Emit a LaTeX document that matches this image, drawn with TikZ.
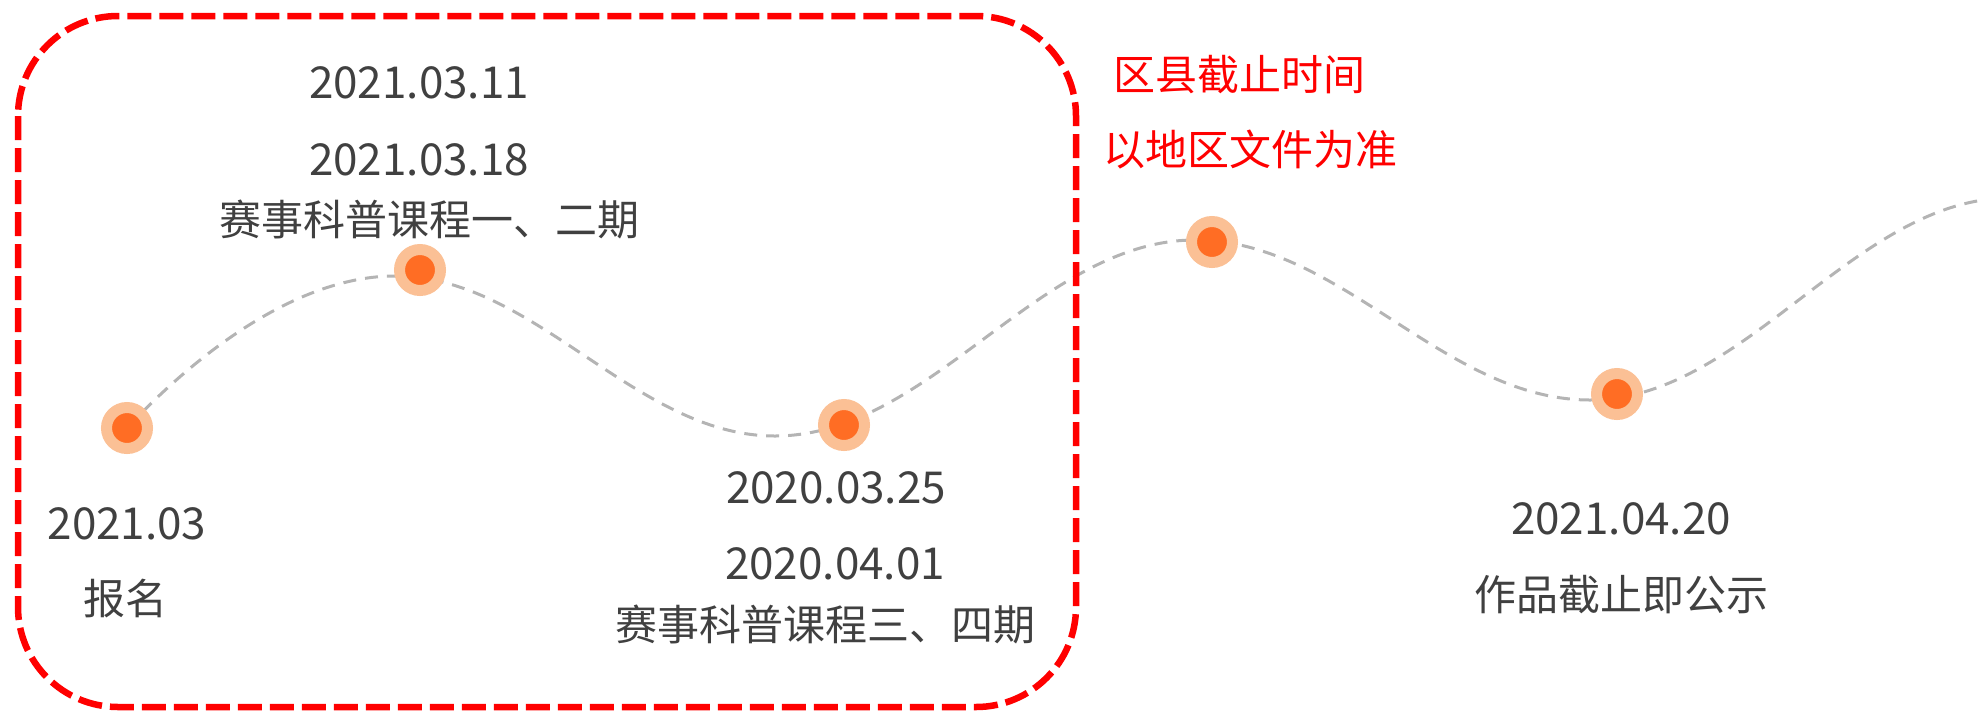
\documentclass[tikz,border=0pt]{standalone}
\usepackage{fontspec}
\setmainfont{Noto Sans CJK SC}
\definecolor{txtgray}{HTML}{404040}
\definecolor{boxred}{HTML}{FF0000}
\definecolor{curvegray}{HTML}{B4B4B4}
\definecolor{dotouter}{HTML}{FBC095}
\definecolor{dotinner}{HTML}{FF6D24}
\begin{document}
\begin{tikzpicture}[x=1pt,y=-1pt,
  datetext/.style={text=txtgray,inner sep=0pt,font=\fontsize{44}{50}\selectfont},
  labeltext/.style={text=txtgray,inner sep=0pt,font=\fontsize{42}{50}\selectfont},
  redtext/.style={text=boxred,inner sep=0pt,font=\fontsize{42}{50}\selectfont},
  dotbox/.style={circle,fill=dotinner,draw=dotouter,line width=11pt,minimum size=41pt,inner sep=0pt},
  wave/.style={draw=curvegray,line width=3pt,dash pattern=on 13pt off 9pt},
  frame/.style={draw=boxred,line width=6.5pt,dash pattern=on 24pt off 8pt,rounded corners=100pt}]
\useasboundingbox (0,0) rectangle (1978,713);
\clip (0,0) rectangle (1978,713);
% wave
\coordinate (w0) at (127,428);
\coordinate (p1) at (395,276);
\coordinate (t1) at (775,436);
\coordinate (p2) at (1195,240);
\coordinate (t2) at (1590,400);
\coordinate (p3) at (2010,198);
\draw[wave] (w0) .. controls (200,350) and (300,276) .. (p1)
  .. controls (535,276) and (635,436) .. (t1)
  .. controls (930,436) and (1040,240) .. (p2)
  .. controls (1341,240) and (1444,400) .. (t2)
  .. controls (1745,400) and (1855,198) .. (p3);
% frame
\draw[frame] (18,16) rectangle (1076,707);
% dots
\node[dotbox] (n1) at (127,428) {};
\node[dotbox] (n2) at (420,270) {};
\node[dotbox] (n3) at (844,425) {};
\node[dotbox] (n4) at (1212,242) {};
\node[dotbox] (n5) at (1617,394) {};
% texts
\node[datetext] (a1) at (419,83) {2021.03.11};
\node[datetext] (a2) at (419,160) {2021.03.18};
\node[labeltext] (a3) at (429,219) {赛事科普课程一、二期};
\node[datetext] (b1) at (127,524) {2021.03};
\node[labeltext] (b2) at (125,599) {报名};
\node[datetext] (c1) at (836,488) {2020.03.25};
\node[datetext] (c2) at (835,564) {2020.04.01};
\node[labeltext] (c3) at (825,624) {赛事科普课程三、四期};
\node[redtext] (r1) at (1239,75) {区县截止时间};
\node[redtext] (r2) at (1250,150) {以地区文件为准};
\node[datetext] (e1) at (1621,519) {2021.04.20};
\node[labeltext] (e2) at (1621,595) {作品截止即公示};
\end{tikzpicture}
\end{document}
